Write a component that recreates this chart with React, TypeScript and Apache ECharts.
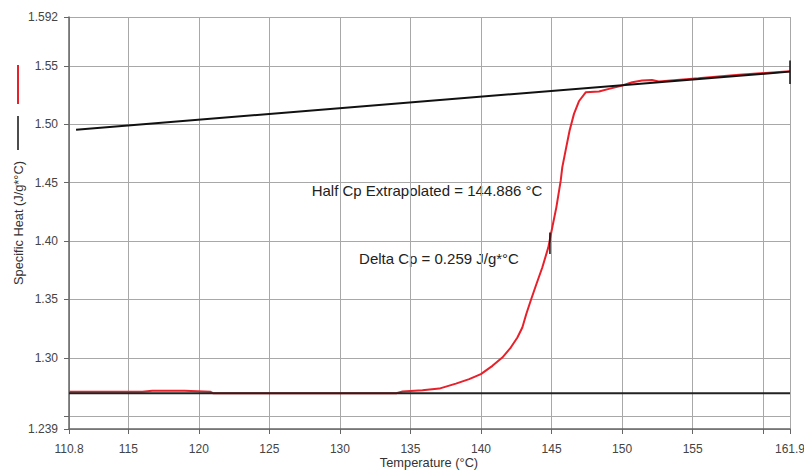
import React, { useEffect, useRef } from "react";
import * as echarts from "echarts";

// Tick positions and labels
const xTicks = [110.8, 115, 120, 125, 130, 135, 140, 145, 150, 155, 160, 161.9];
const xTickLabels = ["110.8", "115", "120", "125", "130", "135", "140", "145", "150", "155", "161.9"];
const yTicks = [1.239, 1.25, 1.3, 1.35, 1.4, 1.45, 1.5, 1.55, 1.592];
const yTickLabels = ["1.239", "1.30", "1.35", "1.40", "1.45", "1.50", "1.55", "1.592"];

// Measured specific heat curve (red)
const cpTemp = [
  110.8, 113.0, 116.0, 116.7, 119.0, 120.8, 121.0, 127.0, 134.0, 134.44, 135.85, 137.04,
  138.22, 139.16, 139.99, 140.81, 141.51, 142.11, 142.58, 142.93, 143.21, 143.52,
  143.88, 144.35, 144.77, 145.05, 145.34, 145.65, 145.76, 146.04, 146.28, 146.59,
  146.94, 147.42, 148.36, 149.07, 150.01, 150.72, 151.42, 152.11, 152.6, 155.4,
  158.3, 161.9,
];
const cpValue = [
  1.271, 1.271, 1.271, 1.2718, 1.2718, 1.271, 1.2697, 1.2697, 1.2697, 1.2711, 1.2723, 1.2736,
  1.2779, 1.2817, 1.286, 1.2931, 1.3002, 1.3088, 1.3174, 1.326, 1.3375, 1.3489,
  1.3615, 1.3776, 1.3946, 1.4117, 1.4289, 1.4518, 1.4632, 1.4803, 1.4947, 1.509,
  1.5198, 1.5275, 1.5281, 1.5304, 1.5333, 1.5361, 1.5375, 1.538, 1.5367, 1.5395,
  1.5425, 1.5455,
];

// Baselines (black)
const upperBaseTemp = [111.3, 161.9];
const upperBaseValue = [1.4955, 1.5452];
const lowerBaseTemp = [110.8, 161.9];
const lowerBaseValue = [1.2697, 1.2697];

// Markers (black)
const halfCpTemp = [144.886, 144.886];
const halfCpValue = [1.3889, 1.4074];
const endMarkTemp = [161.9, 161.9];
const endMarkValue = [1.5347, 1.5547];

const xAxisTitle = "Temperature (°C)";
const yAxisTitle = "Specific Heat (J/g*°C)";
const halfCpText = "Half Cp Extrapolated = 144.886 °C";
const deltaCpText = "Delta Cp = 0.259 J/g*°C";

const zip = (a: number[], b: number[]) => a.map((v, i) => [v, b[i]]);

const FONT = "Liberation Sans, Arial, sans-serif";

export default function App() {
  const ref = useRef<HTMLDivElement>(null);
  useEffect(() => {
    if (!ref.current) return;
    const chart = echarts.init(ref.current, null, { renderer: "svg" });
    const labelFor = (arr: string[]) => (v: number) => {
      const s = arr.find((l) => Math.abs(parseFloat(l) - v) < 1e-6);
      return s ?? "";
    };
    chart.setOption({
      animation: false,
      backgroundColor: "#ffffff",
      grid: { left: 69, top: 17, width: 721, height: 412, containLabel: false, outerBoundsMode: "none" },
      xAxis: {
        type: "value",
        min: 110.8,
        max: 161.9,
        axisLine: { show: true, lineStyle: { color: "#666", width: 1.5 } },
        axisTick: { show: true, length: 5, inside: false, customValues: xTicks, lineStyle: { color: "#666" } },
        axisLabel: {
          customValues: xTickLabels.map((s) => parseFloat(s)),
          formatter: labelFor(xTickLabels),
          fontSize: 12,
          color: "#444",
          fontFamily: FONT,
          margin: 14,
        },
        splitLine: { show: true, lineStyle: { color: "#a8a8a8", width: 1 } },
      },
      yAxis: {
        type: "value",
        min: 1.239,
        max: 1.592,
        axisLine: { show: true, lineStyle: { color: "#666", width: 1.5 } },
        axisTick: { show: true, length: 5, inside: false, customValues: yTicks, lineStyle: { color: "#666" } },
        axisLabel: {
          customValues: yTickLabels.map((s) => parseFloat(s)),
          formatter: labelFor(yTickLabels),
          fontSize: 12,
          color: "#444",
          fontFamily: FONT,
          margin: 11,
        },
        splitLine: { show: true, lineStyle: { color: "#a8a8a8", width: 1 } },
      },
      graphic: [
        { type: "line", shape: { x1: 18, y1: 65, x2: 18, y2: 104 }, style: { stroke: "#e8202a", lineWidth: 2 } },
        { type: "line", shape: { x1: 18, y1: 116, x2: 18, y2: 150 }, style: { stroke: "#111", lineWidth: 1.5 } },
        {
          type: "text",
          x: 429,
          y: 462,
          style: { text: xAxisTitle, fontSize: 12.8, fill: "#333", fontFamily: FONT, align: "center", verticalAlign: "middle" },
        },
        {
          type: "text",
          x: 18,
          y: 223,
          rotation: Math.PI / 2,
          style: { text: yAxisTitle, fontSize: 12.8, fill: "#333", fontFamily: FONT, align: "center", verticalAlign: "middle" },
        },
        {
          type: "text",
          x: 427,
          y: 190,
          style: { text: halfCpText, fontSize: 15, fill: "#222", fontFamily: FONT, align: "center", verticalAlign: "middle" },
        },
        {
          type: "text",
          x: 439,
          y: 258,
          style: { text: deltaCpText, fontSize: 15, fill: "#222", fontFamily: FONT, align: "center", verticalAlign: "middle" },
        },
      ],
      series: [
        {
          type: "line",
          data: zip(cpTemp, cpValue),
          showSymbol: false,
          lineStyle: { color: "#e8202a", width: 2 },
          z: 2,
        },
        {
          type: "line",
          data: zip(upperBaseTemp, upperBaseValue),
          showSymbol: false,
          lineStyle: { color: "#111", width: 2 },
          z: 3,
        },
        {
          type: "line",
          data: zip(lowerBaseTemp, lowerBaseValue),
          showSymbol: false,
          lineStyle: { color: "#222", width: 2 },
          z: 3,
        },
        {
          type: "line",
          data: zip(halfCpTemp, halfCpValue),
          showSymbol: false,
          lineStyle: { color: "#111", width: 1.5 },
          z: 4,
        },
        {
          type: "line",
          data: zip(endMarkTemp, endMarkValue),
          showSymbol: false,
          clip: false,
          lineStyle: { color: "#111", width: 1.5 },
          z: 4,
        },
      ],
    });
    return () => chart.dispose();
  }, []);
  return <div ref={ref} style={{ width: 804, height: 470, position: "absolute", left: 0, top: 0 }} />;
}
